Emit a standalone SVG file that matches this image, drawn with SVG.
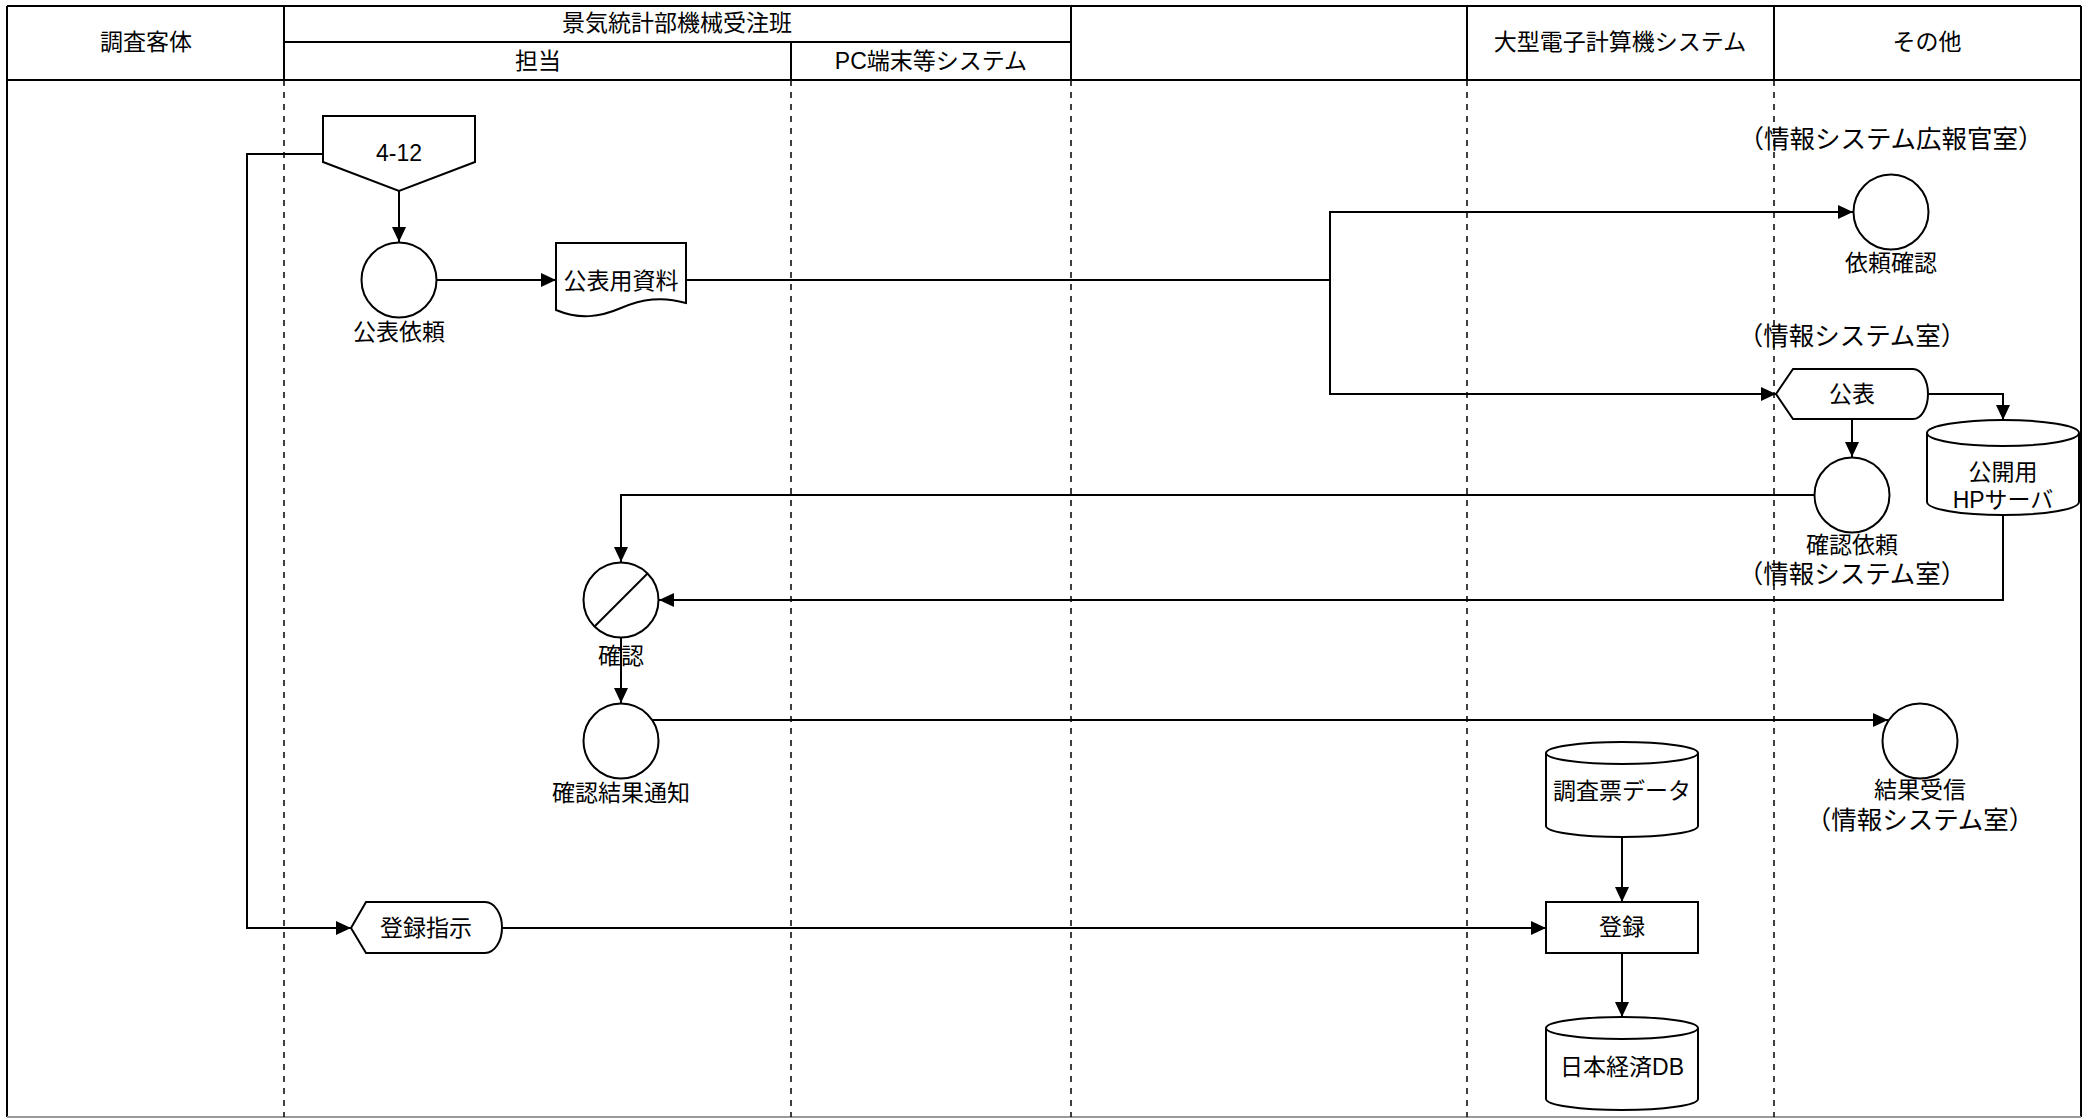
<svg xmlns="http://www.w3.org/2000/svg" width="2089" height="1119" viewBox="0 0 2089 1119">
<style>
.ln{stroke:#000;stroke-width:2;fill:none}
.lane{stroke:#000;stroke-width:1.5;stroke-dasharray:6 6;fill:none}
.bd{stroke:#000;stroke-width:2;fill:none}
.sh{fill:#fff;stroke:#000;stroke-width:2}
.t{font-family:"Liberation Sans","Noto Sans CJK JP",sans-serif;font-size:23px;text-anchor:middle;dominant-baseline:central;fill:#000}
.tj{font-family:"Liberation Sans","Noto Sans CJK JP",sans-serif;font-size:25.5px;text-anchor:middle;dominant-baseline:central;fill:#000}
</style>
<defs>
<marker id="ah" markerUnits="userSpaceOnUse" markerWidth="15" markerHeight="14" refX="15" refY="7" orient="auto">
<path d="M0,0 L15,7 L0,14 Z" fill="#000"/>
</marker>
</defs>
<rect width="2089" height="1119" fill="#fff"/>
<g id="lanes">
<line class="bd" x1="7" y1="6" x2="2081" y2="6"/>
<line class="bd" x1="7" y1="80" x2="2081" y2="80"/>
<line class="bd" x1="284" y1="42" x2="1071" y2="42"/>
<line class="bd" x1="7" y1="6" x2="7" y2="1117"/>
<line class="bd" x1="2081" y1="6" x2="2081" y2="1117"/>
<line x1="7" y1="1117" x2="2081" y2="1117" stroke="#999" stroke-width="2"/>
<line class="bd" x1="284" y1="6" x2="284" y2="80"/>
<line class="bd" x1="791" y1="42" x2="791" y2="80"/>
<line class="bd" x1="1071" y1="6" x2="1071" y2="80"/>
<line class="bd" x1="1467" y1="6" x2="1467" y2="80"/>
<line class="bd" x1="1774" y1="6" x2="1774" y2="80"/>
<line class="lane" x1="284" y1="80" x2="284" y2="1117"/>
<line class="lane" x1="791" y1="80" x2="791" y2="1117"/>
<line class="lane" x1="1071" y1="80" x2="1071" y2="1117"/>
<line class="lane" x1="1467" y1="80" x2="1467" y2="1117"/>
<line class="lane" x1="1774" y1="80" x2="1774" y2="1117"/>
<text class="t" x="146" y="42">調査客体</text>
<text class="t" x="677" y="23">景気統計部機械受注班</text>
<text class="t" x="538" y="61">担当</text>
<text class="t" x="931" y="61">PC端末等システム</text>
<text class="t" x="1620" y="42">大型電子計算機システム</text>
<text class="t" x="1927" y="42">その他</text>
</g>
<g id="connectors">
<polyline class="ln" points="323,154 247,154 247,928 351,928" marker-end="url(#ah)"/>
<line class="ln" x1="399" y1="191" x2="399" y2="242" marker-end="url(#ah)"/>
<line class="ln" x1="437" y1="280" x2="556" y2="280" marker-end="url(#ah)"/>
<polyline class="ln" points="686,280 1330,280"/>
<polyline class="ln" points="1330,280 1330,212 1853,212" marker-end="url(#ah)"/>
<polyline class="ln" points="1330,280 1330,394 1776,394" marker-end="url(#ah)"/>
<polyline class="ln" points="1928,394 2003,394 2003,420" marker-end="url(#ah)"/>
<line class="ln" x1="1852" y1="419" x2="1852" y2="457" marker-end="url(#ah)"/>
<polyline class="ln" points="1814,495 621,495 621,562" marker-end="url(#ah)"/>
<polyline class="ln" points="2003,515 2003,600 659,600" marker-end="url(#ah)"/>
<line class="ln" x1="621" y1="638" x2="621" y2="703" marker-end="url(#ah)"/>
<line class="ln" x1="652" y1="720" x2="1888" y2="720" marker-end="url(#ah)"/>
<line class="ln" x1="502" y1="928" x2="1546" y2="928" marker-end="url(#ah)"/>
<line class="ln" x1="1622" y1="837" x2="1622" y2="902" marker-end="url(#ah)"/>
<line class="ln" x1="1622" y1="953" x2="1622" y2="1017" marker-end="url(#ah)"/>
</g>
<g id="n-412">
<polygon class="sh" points="323,116 475,116 475,162 399,191 323,162"/>
<text class="t" x="399" y="153">4-12</text>
</g>
<g id="n-kouhyouirai">
<circle class="sh" cx="399" cy="280" r="37.5"/>
<text class="t" x="399" y="332">公表依頼</text>
</g>
<g id="n-shiryou">
<path class="sh" d="M556,243 H686 V303 C662,296 642,299 621,308 C600,317 580,320 556,310 Z"/>
<text class="t" x="621" y="281">公表用資料</text>
</g>
<g id="n-iraikakunin">
<text class="tj" x="1891" y="139">（情報システム広報官室）</text>
<circle class="sh" cx="1891" cy="212" r="37.5"/>
<text class="t" x="1891" y="263">依頼確認</text>
</g>
<g id="n-kouhyou">
<text class="tj" x="1852" y="336">（情報システム室）</text>
<path class="sh" d="M1776,394 L1793,369 H1913 A15,25 0 0 1 1913,419 H1793 Z"/>
<text class="t" x="1852" y="394">公表</text>
</g>
<g id="n-hpserver">
<path class="sh" d="M1927,433 A76,13 0 0 1 2079,433 V502 A76,13 0 0 1 1927,502 Z"/>
<path class="ln" d="M1927,433 A76,13 0 0 0 2079,433"/>
<text class="t" x="2003" y="472">公開用</text>
<text class="t" x="2003" y="500">HPサーバ</text>
</g>
<g id="n-kakuninirai">
<circle class="sh" cx="1852" cy="495" r="37.5"/>
<text class="t" x="1852" y="545">確認依頼</text>
<text class="tj" x="1852" y="574">（情報システム室）</text>
</g>
<g id="n-kakunin">
<circle class="sh" cx="621" cy="600" r="37.5"/>
<line class="ln" x1="594.5" y1="626.5" x2="647.5" y2="573.5"/>
<text class="t" x="621" y="656">確認</text>
</g>
<g id="n-kekkatsuuchi">
<circle class="sh" cx="621" cy="741" r="37.5"/>
<text class="t" x="621" y="793">確認結果通知</text>
</g>
<g id="n-kekkajushin">
<circle class="sh" cx="1920" cy="741" r="37.5"/>
<text class="t" x="1920" y="790">結果受信</text>
<text class="tj" x="1920" y="820">（情報システム室）</text>
</g>
<g id="n-chousahyou">
<path class="sh" d="M1546,753 A76,11 0 0 1 1698,753 V826 A76,11 0 0 1 1546,826 Z"/>
<path class="ln" d="M1546,753 A76,11 0 0 0 1698,753"/>
<text class="t" x="1622" y="791">調査票データ</text>
</g>
<g id="n-touroku">
<rect class="sh" x="1546" y="902" width="152" height="51"/>
<text class="t" x="1622" y="927">登録</text>
</g>
<g id="n-db">
<path class="sh" d="M1546,1028 A76,11 0 0 1 1698,1028 V1099 A76,11 0 0 1 1546,1099 Z"/>
<path class="ln" d="M1546,1028 A76,11 0 0 0 1698,1028"/>
<text class="t" x="1622" y="1067">日本経済DB</text>
</g>
<g id="n-tourokushiji">
<path class="sh" d="M351,928 L366,902 H485 A17,25.5 0 0 1 485,953 H366 Z"/>
<text class="t" x="426" y="928">登録指示</text>
</g>
</svg>
